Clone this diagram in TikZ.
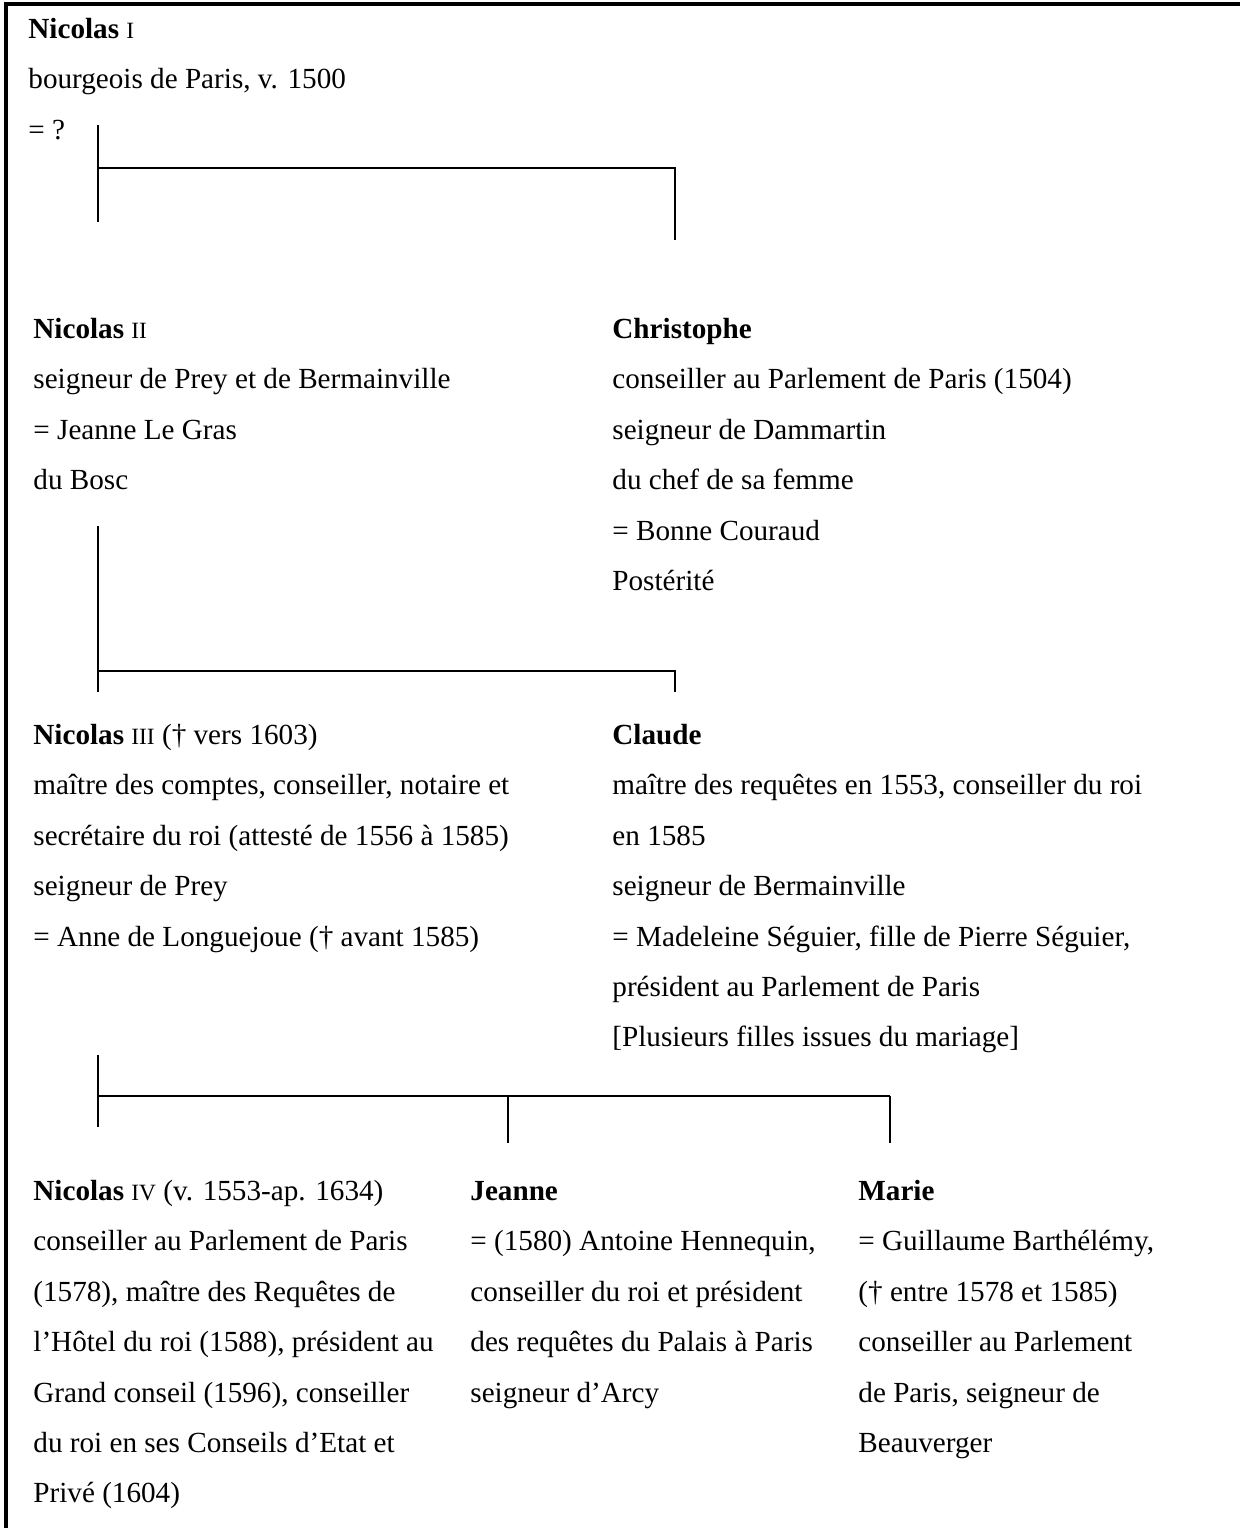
\documentclass[tikz,border=0pt]{standalone}
\usepackage{fontspec}
\setmainfont{Liberation Serif}
\usetikzlibrary{positioning}

\newcommand{\rnum}[1]{{\fontsize{11.2}{11.2}\selectfont #1}}
\newcommand{\hd}{\rule{0pt}{11pt}}

\begin{document}
\begin{tikzpicture}[x=0.48pt, y=-0.48pt,
  person/.style={anchor=north west, yshift=11pt, align=left, inner sep=0pt, font=\fontsize{14}{24.2}\selectfont},
  stem/.style={line width=0.9pt},
  bar/.style={line width=1.3pt},
  frame/.style={line width=1.5pt}]
  \useasboundingbox (0,0) rectangle (1240,1528);

  % Frame
  \draw[frame] (6,1528) -- (6,4) -- (1240,4);

  % Nicolas I
  \node[person] (nicolasI) at (28,38) {\hd\textbf{Nicolas} \rnum{I}\\bourgeois de Paris, v. 1500\\= ?};

  % First fork
  \coordinate (f1a) at (98,125);
  \coordinate (f1b) at (98,222);
  \coordinate (bar1) at (98,168);
  \coordinate (f1c) at (675,240);
  \draw[stem] (f1a) -- (f1b);
  \draw[stem] (bar1) -| (f1c);

  % Nicolas II
  \node[person] (nicolasII) at (33,338) {\hd\textbf{Nicolas} \rnum{II}\\seigneur de Prey et de Bermainville\\= Jeanne Le Gras\\du Bosc};

  % Christophe
  \node[person] (christophe) at (612,338) {\hd\textbf{Christophe}\\conseiller au Parlement de Paris (1504)\\seigneur de Dammartin\\du chef de sa femme\\= Bonne Couraud\\Postérité};

  % Second fork
  \coordinate (f2a) at (98,526);
  \coordinate (f2b) at (98,692);
  \coordinate (bar2) at (98,671);
  \coordinate (f2c) at (675,692);
  \draw[stem] (f2a) -- (f2b);
  \draw[stem] (bar2) -| (f2c);

  % Nicolas III
  \node[person] (nicolasIII) at (33,744) {\hd\textbf{Nicolas} \rnum{III} (\textdagger{} vers 1603)\\maître des comptes, conseiller, notaire et\\secrétaire du roi (attesté de 1556 à 1585)\\seigneur de Prey\\= Anne de Longuejoue (\textdagger{} avant 1585)};

  % Claude
  \node[person] (claude) at (612,744) {\hd\textbf{Claude}\\maître des requêtes en 1553, conseiller du roi\\en 1585\\seigneur de Bermainville\\= Madeleine Séguier, fille de Pierre Séguier,\\président au Parlement de Paris\\ {[}Plusieurs filles issues du mariage{]}};

  % Third fork
  \coordinate (f3a) at (98,1055);
  \coordinate (f3b) at (98,1127);
  \coordinate (bar3) at (98,1096);
  \coordinate (f3c) at (508,1143);
  \coordinate (f3d) at (890,1143);
  \draw[stem] (f3a) -- (f3b);
  \draw[bar] (bar3) -- (bar3 -| f3d);
  \draw[stem] (f3c |- bar3) -- (f3c);
  \draw[stem] (f3d |- bar3) -- (f3d);

  % Nicolas IV
  \node[person] (nicolasIV) at (33,1200) {\hd\textbf{Nicolas} \rnum{IV} (v. 1553-ap. 1634)\\conseiller au Parlement de Paris\\(1578), maître des Requêtes de\\l’Hôtel du roi (1588), président au\\Grand conseil (1596), conseiller\\du roi en ses Conseils d’Etat et\\Privé (1604)};

  % Jeanne
  \node[person] (jeanne) at (470,1200) {\hd\textbf{Jeanne}\\= (1580) Antoine Hennequin,\\conseiller du roi et président\\des requêtes du Palais à Paris\\seigneur d’Arcy};

  % Marie
  \node[person] (marie) at (858,1200) {\hd\textbf{Marie}\\= Guillaume Barthélémy,\\(\textdagger{} entre 1578 et 1585)\\conseiller au Parlement\\de Paris, seigneur de\\Beauverger};
\end{tikzpicture}
\end{document}
